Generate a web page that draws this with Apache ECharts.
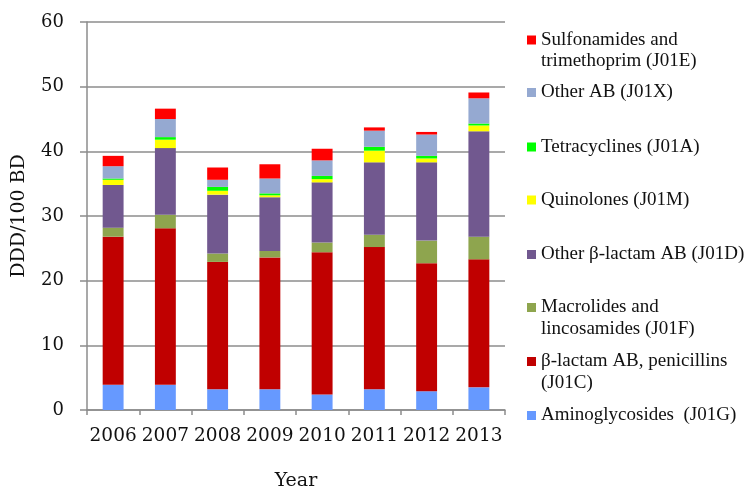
<!DOCTYPE html>
<html>
<head>
<meta charset="utf-8">
<script src="https://cdn.jsdelivr.net/npm/echarts@6/dist/echarts.min.js"></script>
<style>
  html, body { margin: 0; padding: 0; background: #fff; }
  #chart { width: 745px; height: 489px; }
</style>
</head>
<body>
<div id="chart"></div>
<script>
// data (DDD/100 BD), bottom of the stack first
var years = ['2006', '2007', '2008', '2009', '2010', '2011', '2012', '2013'];
var yTicks = [0, 10, 20, 30, 40, 50, 60];

var aminoglycosides = [3.9, 3.9, 3.2, 3.2, 2.4, 3.2, 2.9, 3.5];
var penicillins     = [22.9, 24.2, 19.7, 20.4, 22.0, 22.0, 19.8, 19.8];
var macrolides      = [1.4, 2.1, 1.3, 1.0, 1.5, 1.9, 3.5, 3.5];
var otherBetaLactam = [6.6, 10.3, 9.1, 8.3, 9.3, 11.2, 12.1, 16.3];
var quinolones      = [0.8, 1.3, 0.6, 0.3, 0.5, 1.8, 0.6, 0.9];
var tetracyclines   = [0.2, 0.4, 0.6, 0.3, 0.5, 0.6, 0.4, 0.3];
var otherAB         = [1.9, 2.8, 1.1, 2.3, 2.4, 2.5, 3.3, 3.9];
var sulfonamides    = [1.6, 1.6, 1.9, 2.2, 1.8, 0.5, 0.4, 0.9];

var seriesNames = [
  'Aminoglycosides  (J01G)',
  'β-lactam AB, penicillins (J01C)',
  'Macrolides and lincosamides (J01F)',
  'Other β-lactam AB (J01D)',
  'Quinolones (J01M)',
  'Tetracyclines (J01A)',
  'Other AB (J01X)',
  'Sulfonamides and trimethoprim (J01E)'
];
// how the legend wraps the names
var legendLabels = [
  ['Aminoglycosides  (J01G)'],
  ['β-lactam AB, penicillins', '(J01C)'],
  ['Macrolides and', 'lincosamides (J01F)'],
  ['Other β-lactam AB (J01D)'],
  ['Quinolones (J01M)'],
  ['Tetracyclines (J01A)'],
  ['Other AB (J01X)'],
  ['Sulfonamides and', 'trimethoprim (J01E)']
];
var seriesData = [aminoglycosides, penicillins, macrolides, otherBetaLactam,
                  quinolones, tetracyclines, otherAB, sulfonamides];
var colors = ['#6699FF', '#C00000', '#8EA54E', '#71588F', '#FFFF00', '#00FF00', '#95A9D1', '#FF0000'];

// y centre of each legend marker
var legendMarkY = [415.5, 361.5, 307.5, 254.5, 200, 147, 92.5, 40];

var lineH = 21.5;
var series = [];
var legends = [];
for (var i = 0; i < seriesNames.length; i++) {
  series.push({
    name: seriesNames[i],
    type: 'bar',
    stack: 'total',
    barWidth: '40%',
    itemStyle: { color: colors[i] },
    data: seriesData[i]
  });
  var twoLines = legendLabels[i].length > 1;
  // two-line labels get a blank line on top so the marker sits on the first line
  var txt = twoLines ? ' \n' + legendLabels[i].join('\n') : legendLabels[i][0];
  legends.push({
    data: [seriesNames[i]],
    left: 527,
    top: twoLines ? legendMarkY[i] - lineH * 1.5 : legendMarkY[i] - lineH / 2,
    padding: 0,
    itemWidth: 9,
    itemHeight: 9,
    itemGap: 0,
    selectedMode: false,
    icon: 'rect',
    formatter: (function (t) { return function () { return t; }; })(txt),
    textStyle: {
      fontFamily: 'Liberation Serif',
      fontSize: 19,
      color: '#111',
      lineHeight: lineH
    }
  });
}

var chart = echarts.init(document.getElementById('chart'));
var option = {
  animation: false,
  backgroundColor: '#fff',
  legend: legends,
  grid: { left: 87, right: 240, top: 22, bottom: 79, outerBoundsMode: 'none', containLabel: false },
  xAxis: {
    type: 'category',
    data: years,
    name: 'Year',
    nameLocation: 'middle',
    nameGap: 62,
    nameTextStyle: { fontFamily: 'DejaVu Serif', fontSize: 19, color: '#111' },
    axisLine: { lineStyle: { color: '#8c8c8c', width: 1.5 } },
    axisTick: { show: true, length: 5, lineStyle: { color: '#8c8c8c', width: 1.5 } },
    axisLabel: { interval: 0, fontFamily: 'DejaVu Serif', fontSize: 18.5, color: '#111', margin: 17 }
  },
  yAxis: {
    type: 'value',
    min: yTicks[0],
    max: yTicks[yTicks.length - 1],
    interval: yTicks[1] - yTicks[0],
    name: 'DDD/100 BD',
    nameLocation: 'middle',
    nameGap: 58,
    nameTextStyle: { fontFamily: 'DejaVu Serif', fontSize: 19, color: '#111' },
    axisLine: { show: true, lineStyle: { color: '#8c8c8c', width: 1.5 } },
    axisTick: { show: true, length: 7, lineStyle: { color: '#8c8c8c', width: 1.5 } },
    axisLabel: { fontFamily: 'DejaVu Serif', fontSize: 18, color: '#111', margin: 23 },
    splitLine: { lineStyle: { color: '#8c8c8c', width: 1.5 } }
  },
  series: series
};
chart.setOption(option);
</script>
</body>
</html>
